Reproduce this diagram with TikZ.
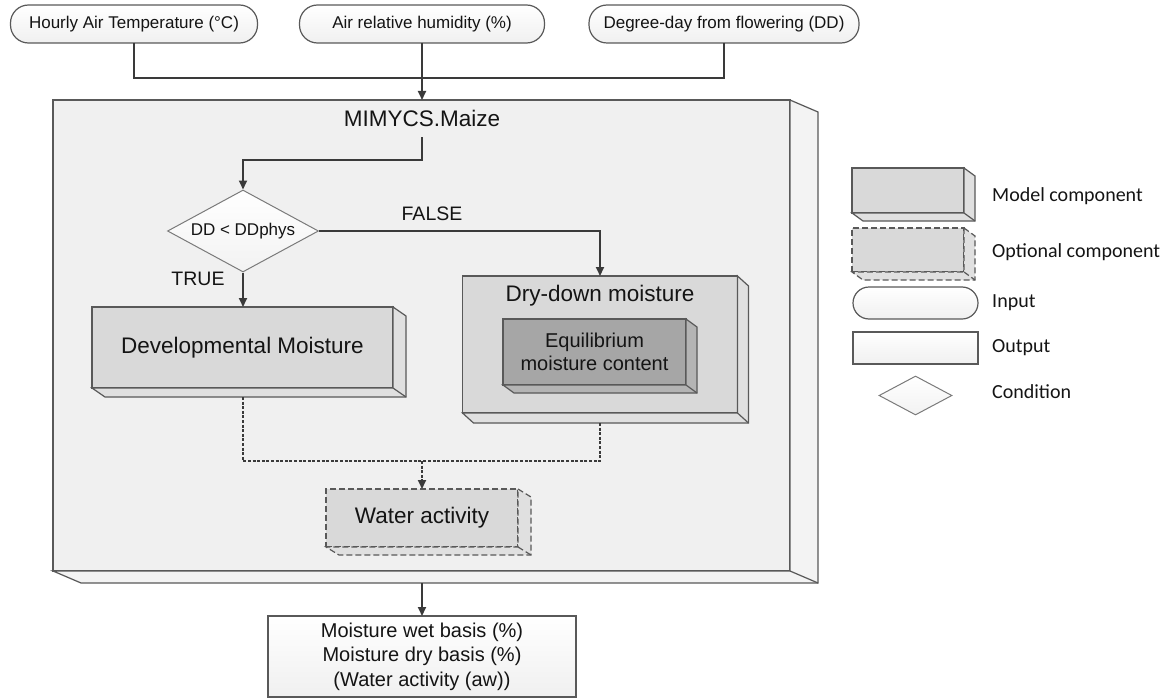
\documentclass[tikz,border=0pt]{standalone}
\usepackage{fontspec}
\setmainfont{Liberation Sans}
\newfontfamily\legendfont{Carlito}
\usetikzlibrary{arrows.meta,shapes.geometric,calc}

\definecolor{edge}{HTML}{595959}
\definecolor{wire}{HTML}{3A3A3A}
\definecolor{panel}{HTML}{F0F0F0}
\definecolor{panelside}{HTML}{F3F3F3}
\definecolor{comp}{HTML}{D9D9D9}
\definecolor{compside}{HTML}{E0E0E0}
\definecolor{innercomp}{HTML}{A6A6A6}
\definecolor{innerside}{HTML}{B4B4B4}
\definecolor{ink}{HTML}{141414}

\tikzset{
  boxline/.style={draw=edge, line width=1.2pt},
  frontbox/.style={boxline, rectangle, inner sep=0pt, outer sep=0pt, text=ink, align=center},
  pill/.style={frontbox, top color=white, bottom color=black!6},
  inputbox/.style={pill, rounded corners=18pt, font=\fontsize{17}{20}\selectfont},
  arr/.style={draw=wire, line width=2pt, -{Triangle[length=9pt,width=8pt]}},
  wireline/.style={draw=wire, line width=2pt},
  optline/.style={draw=wire, line width=1.8pt, dash pattern=on 3pt off 1.6pt},
  optedge/.style={dash pattern=on 6pt off 3pt},
  lbl/.style={text=ink, inner sep=0pt},
  legendlbl/.style={lbl, anchor=west, font=\legendfont\fontsize{20}{24}\selectfont},
  bigtext/.style={font=\fontsize{22.5}{26}\selectfont},
}

% right and bottom faces of a 3-D box whose front face is the node #2
\newcommand\boxdepth[4][]{%
  \filldraw[boxline,#1,fill=#4] (#2.north east) -- ++(#3)
    -- ($(#2.south east)+(#3)$) -- ($(#2.south west)+(#3)$)
    -- (#2.south west) -- (#2.south east) -- cycle;
  \draw[boxline,#1] (#2.south east) -- ++(#3);}

\begin{document}
\begin{tikzpicture}[x=1pt,y=-1pt]
\useasboundingbox (0,0) rectangle (1169,698);

% inputs
\node[inputbox, minimum width=247pt, minimum height=38pt] (in1) at (134,24) {Hourly Air Temperature (°C)};
\node[inputbox, minimum width=245pt, minimum height=38pt] (in2) at (422,24) {Air relative humidity (\%)};
\node[inputbox, minimum width=270pt, minimum height=38pt] (in3) at (724,24) {Degree-day from flowering (DD)};

% model frame
\node[frontbox, fill=panel, minimum width=737pt, minimum height=471pt] (main) at (421.5,335.5) {};
\boxdepth{main}{28,12}{panelside}
\node[lbl, bigtext, minimum height=38pt] (mimycs) at (422,118) {MIMYCS.Maize};

% inputs merge into the model
\coordinate (join) at (in2.south |- 0,78);
\draw[wireline] (in1.south) |- (join);
\draw[wireline] (in3.south) |- (join);
\draw[arr] (in2.south) -- (in2.south |- main.north);

% condition
\node[draw=edge!80, line width=1pt, diamond, aspect=1.84, inner sep=0pt,
      minimum width=151pt, minimum height=82pt, top color=white, bottom color=black!5,
      text=ink, font=\fontsize{17}{20}\selectfont] (cond) at (243,231) {DD < DDphys};
\coordinate (bend) at (mimycs.south |- 0,160);
\draw[arr] (mimycs.south) -- (bend) -| (cond.north);

% developmental branch
\node[frontbox, fill=comp, bigtext, minimum width=301pt, minimum height=81pt] (dev) at (242.5,347.5) {Developmental Moisture};
\boxdepth{dev}{13,9}{compside}
\draw[arr] (cond.south) -- (cond.south |- dev.north);
\node[lbl, font=\fontsize{19.5}{22}\selectfont] (true) at (198,279) {TRUE};

% dry-down branch
\node[frontbox, fill=comp, minimum width=275pt, minimum height=137pt] (dry) at (600,344.5) {};
\boxdepth{dry}{11,10}{compside}
\node[lbl, bigtext] (drylabel) at (600,296) {Dry-down moisture};
\node[frontbox, fill=innercomp, font=\fontsize{20}{24}\selectfont, minimum width=183pt, minimum height=66pt] (emc) at (594.5,352) {Equilibrium\\[-1pt]moisture content};
\boxdepth{emc}{11,8}{innerside}
\draw[arr] (cond.east) -| (dry.north);
\node[lbl, font=\fontsize{19.5}{22}\selectfont] (false) at (432,214) {FALSE};

% optional water activity
\node[frontbox, optedge, fill=comp, bigtext, minimum width=192pt, minimum height=58pt] (water) at (422,518) {Water activity};
\boxdepth[optedge]{water}{13,8}{compside}
\coordinate (wjoin) at (water.north |- 0,461);
\draw[optline, shorten <=9pt] (dev.south -| cond.south) |- (wjoin);
\draw[optline, shorten <=10pt] (dry.south) |- (wjoin);
\draw[optline, -{Triangle[length=9pt,width=8pt]}] (wjoin) -- (water.north);

% outputs
\node[pill, font=\fontsize{20}{24.5}\selectfont, minimum width=308pt, minimum height=81pt] (out) at (422,656.5)
  {Moisture wet basis (\%)\\Moisture dry basis (\%)\\(Water activity (aw))};
\draw[arr, shorten <=12pt] (main.south -| out.north) -- (out.north);

% legend
\node[frontbox, fill=comp, minimum width=112pt, minimum height=45pt] (lmodel) at (908,190.5) {};
\boxdepth{lmodel}{11,8}{compside}
\node[legendlbl] (tmodel) at (992,196) {Model component};

\node[frontbox, optedge, fill=comp, minimum width=112pt, minimum height=44pt] (lopt) at (908,250) {};
\boxdepth[optedge]{lopt}{11,8}{compside}
\node[legendlbl] (topt) at (992,252) {Optional component};

\node[pill, rounded corners=16pt, minimum width=125pt, minimum height=32pt] (linput) at (915.5,303) {};
\node[legendlbl] (tinput) at (992,303) {Input};

\node[pill, minimum width=125pt, minimum height=32pt] (loutput) at (915.5,348) {};
\node[legendlbl] (toutput) at (992,348) {Output};

\node[draw=edge!80, line width=1pt, diamond, inner sep=0pt, minimum width=73pt, minimum height=39pt,
      top color=white, bottom color=black!5] (lcond) at (915.5,395.5) {};
\node[legendlbl] (tcond) at (992,392) {Condition};
\end{tikzpicture}
\end{document}
